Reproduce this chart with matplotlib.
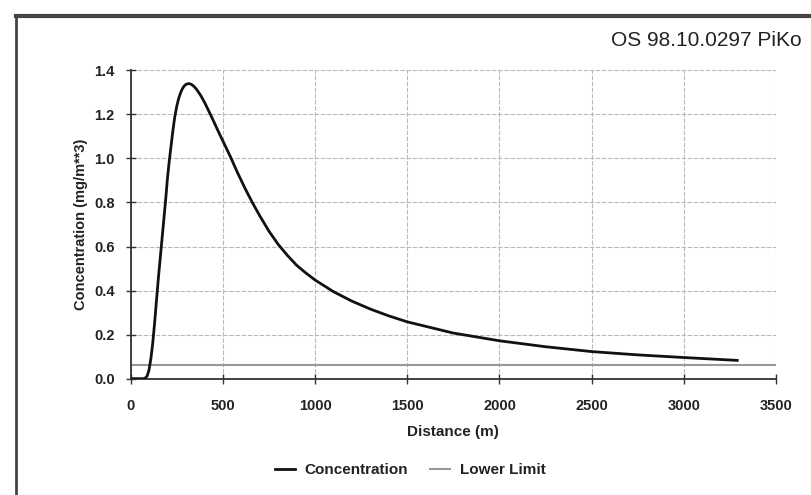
import matplotlib
matplotlib.use("Agg")
import matplotlib.pyplot as plt
from matplotlib.lines import Line2D

plt.rcParams['font.family'] = ['Liberation Sans', 'DejaVu Sans']

# values
distance = [0, 70, 80, 90, 100, 110, 120, 130, 140, 150, 160, 170, 180, 190, 200,
            210, 220, 230, 240, 250, 260, 270, 280, 290, 300, 315, 330, 345, 360,
            380, 400, 420, 440, 460, 480, 500, 540, 580, 620, 660, 700, 750, 800,
            850, 900, 950, 1000, 1100, 1200, 1300, 1400, 1500, 1750, 2000, 2250,
            2500, 2750, 3000, 3289]
concentration = [0.0, 0.0, 0.003, 0.012, 0.04, 0.09, 0.16, 0.25, 0.35, 0.45, 0.54,
                 0.63, 0.72, 0.81, 0.91, 0.99, 1.06, 1.13, 1.19, 1.235, 1.27, 1.295,
                 1.315, 1.328, 1.336, 1.34, 1.336, 1.326, 1.311, 1.286, 1.256,
                 1.222, 1.187, 1.151, 1.115, 1.08, 1.01, 0.935, 0.865, 0.80, 0.74,
                 0.67, 0.61, 0.56, 0.515, 0.48, 0.448, 0.395, 0.352, 0.316, 0.285,
                 0.258, 0.207, 0.172, 0.145, 0.123, 0.108, 0.096, 0.083]
lower_limit = 0.061
x_ticks = [0, 500, 1000, 1500, 2000, 2500, 3000, 3500]
y_ticks = [0.0, 0.2, 0.4, 0.6, 0.8, 1.0, 1.2, 1.4]
title = "OS 98.10.0297 PiKo"

fig = plt.figure(figsize=(8.11, 4.95), dpi=100)
ax = fig.add_axes([0.161, 0.235, 0.796, 0.623])

ax.plot(distance, concentration, color='#111111', lw=2.0, label='Concentration', zorder=3)
ax.axhline(lower_limit, color='#9a9a9a', lw=1.5, label='Lower Limit', zorder=2)

ax.set_xlim(0, 3500)
ax.set_ylim(0, 1.4)
ax.set_xticks(x_ticks)
ax.set_yticks(y_ticks)
ax.set_yticklabels([f"{v:.1f}" for v in y_ticks])
ax.grid(True, color='#b8b8b8', lw=0.8, linestyle=(0, (4, 1.5)))
ax.set_axisbelow(True)

for side in ['top', 'right']:
    ax.spines[side].set_visible(False)
for side in ['left', 'bottom']:
    ax.spines[side].set_color('#333333')
    ax.spines[side].set_linewidth(1.3)
ax.tick_params(direction='inout', length=7, width=1.0, color='#333333',
               labelsize=10.5, labelcolor='#222222')
for lab in ax.get_xticklabels() + ax.get_yticklabels():
    lab.set_fontweight('bold')
ax.tick_params(axis='x', pad=11)
ax.tick_params(axis='y', pad=8)

ax.set_xlabel("Distance (m)", fontsize=11, fontweight='bold', color='#222222', labelpad=9)
ax.set_ylabel("Concentration (mg/m**3)", fontsize=10.5, fontweight='bold', color='#222222', labelpad=4)

leg = ax.legend(loc='center', bbox_to_anchor=(0.433, -0.297), ncol=2, frameon=False,
                fontsize=11, handlelength=1.3, handletextpad=0.6, columnspacing=1.5)
for t in leg.get_texts():
    t.set_fontweight('bold')
    t.set_color('#222222')

fig.text(0.988, 0.918, title, ha='right', va='center', fontsize=15, color='#222222')

# scanned page frame
fig.add_artist(Line2D([0.02, 1.0], [0.968, 0.968], color='#444444', lw=3))
fig.add_artist(Line2D([0.02, 0.02], [0.0, 0.968], color='#444444', lw=2))

fig.savefig("out.png", dpi=100)
